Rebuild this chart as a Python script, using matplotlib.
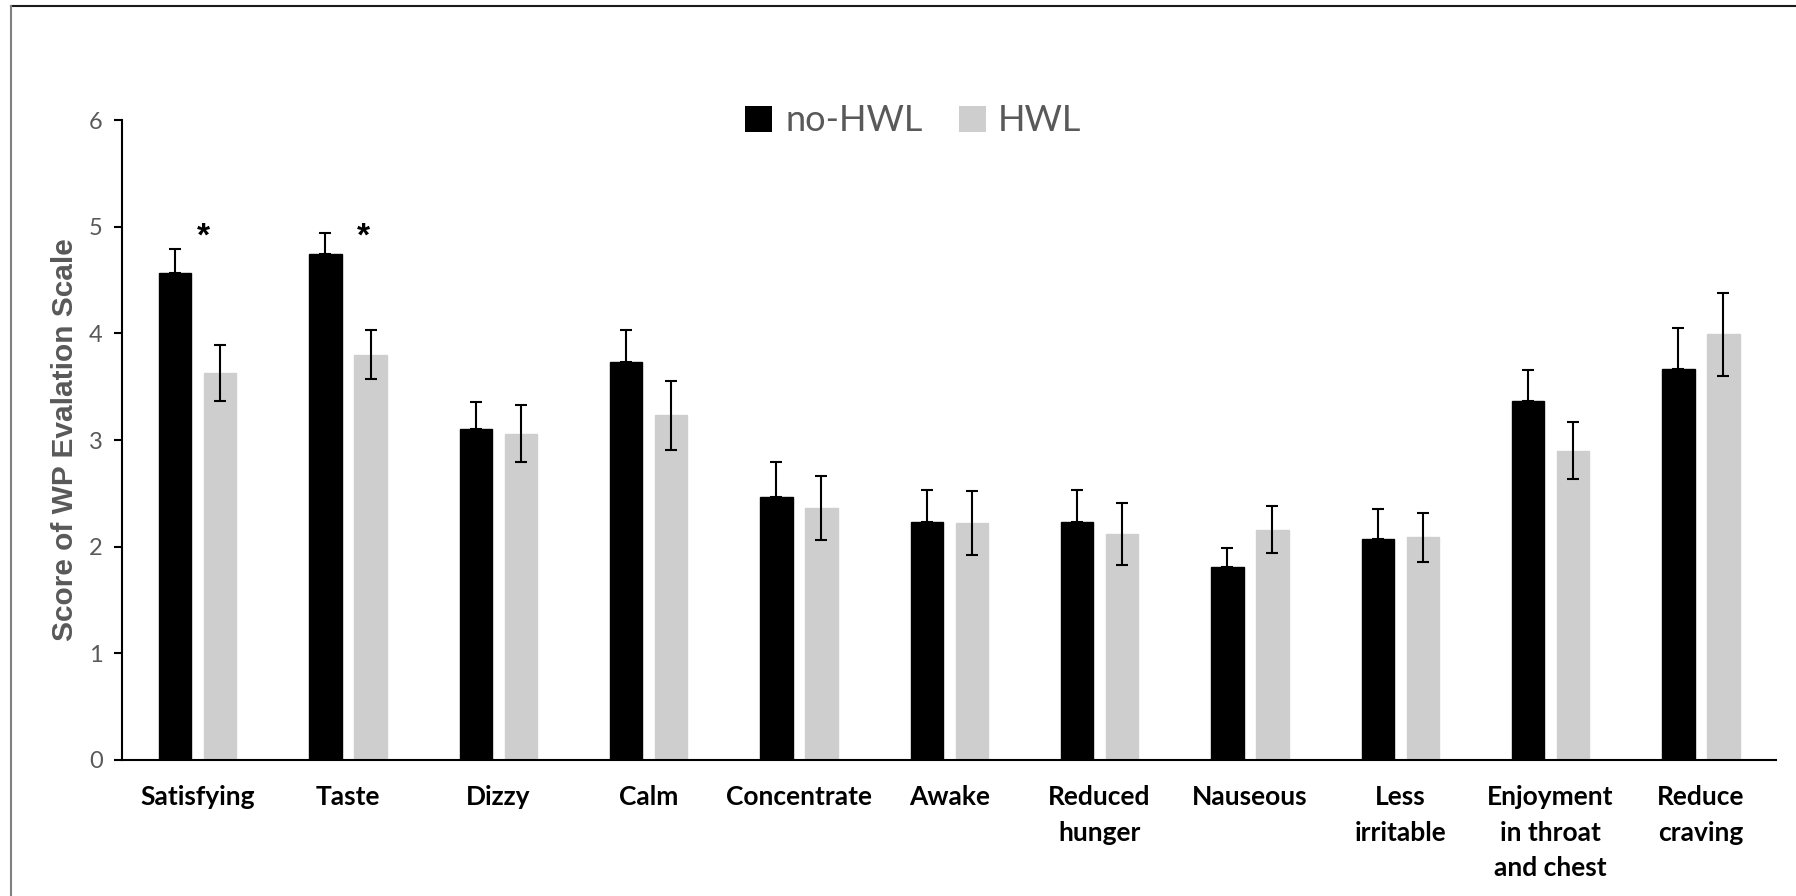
import numpy as np
import matplotlib.pyplot as plt
from matplotlib.lines import Line2D
from matplotlib.patches import Patch

categories = ["Satisfying", "Taste", "Dizzy", "Calm", "Concentrate", "Awake",
              "Reduced\nhunger", "Nauseous", "Less\nirritable",
              "Enjoyment\nin throat\nand chest", "Reduce\ncraving"]

no_hwl = [4.57, 4.74, 3.10, 3.73, 2.47, 2.23, 2.23, 1.81, 2.07, 3.37, 3.67]
no_hwl_err = [0.22, 0.20, 0.26, 0.30, 0.32, 0.30, 0.30, 0.18, 0.28, 0.29, 0.38]

hwl = [3.63, 3.80, 3.06, 3.23, 2.36, 2.22, 2.12, 2.16, 2.09, 2.90, 3.99]
hwl_err = [0.26, 0.23, 0.27, 0.32, 0.30, 0.30, 0.29, 0.22, 0.23, 0.27, 0.39]

GRAY_TXT = "#595959"
LIGHT = "#cfcece"

fig = plt.figure(figsize=(17.96, 8.96), dpi=100)
ax = fig.add_axes([0.0682, 0.1518, 0.9207, 0.7142])

x = np.arange(len(categories))
w = 0.215
ax.bar(x - 0.15, no_hwl, w, color="black", edgecolor="black", linewidth=1)
ax.bar(x + 0.15, hwl, w, color=LIGHT, edgecolor=LIGHT, linewidth=1)
ax.errorbar(x - 0.15, no_hwl, yerr=[[0] * len(x), no_hwl_err], fmt="none",
            ecolor="black", elinewidth=1.5, capsize=4.2, capthick=1.5)
ax.errorbar(x + 0.15, hwl, yerr=hwl_err, fmt="none",
            ecolor="black", elinewidth=1.5, capsize=4.2, capthick=1.5)

# significance marks
ax.text(0.04, 4.90, "*", ha="center", va="center", fontsize=24,
        fontweight="bold", family="Liberation Sans")
ax.text(1.10, 4.90, "*", ha="center", va="center", fontsize=24,
        fontweight="bold", family="Liberation Sans")

ax.set_xlim(-0.5, 10.5)
ax.set_ylim(0, 6)
ax.set_yticks(range(7))
for s in ["top", "right"]:
    ax.spines[s].set_visible(False)
ax.spines["left"].set_linewidth(1.5)
ax.spines["bottom"].set_linewidth(1.5)

ax.set_xticks(x)
ax.set_xticklabels(categories, fontsize=19, fontweight="bold", family="Lato",
                   linespacing=1.58)
ax.tick_params(axis="x", length=0, pad=18)
ax.tick_params(axis="y", length=5.8, width=1.5, pad=8.5, labelsize=17,
               labelcolor=GRAY_TXT)
for t in ax.get_yticklabels():
    t.set_family("Lato")

ax.set_ylabel("Score of WP Evalation Scale", fontsize=21.5, fontweight="bold",
              family="Liberation Sans", color=GRAY_TXT, labelpad=7)

handles = [Patch(facecolor="black", label="no-HWL"),
           Patch(facecolor=LIGHT, label="HWL")]
leg = fig.legend(handles=handles, loc="center", bbox_to_anchor=(0.5086, 0.865),
                 ncol=2, frameon=False, prop={"family": "Lato", "size": 26},
                 handlelength=0.75, handleheight=0.75, handletextpad=0.35,
                 columnspacing=1.0, labelcolor=GRAY_TXT)

# outer frame
fig.add_artist(Line2D([11 / 1796, 1], [1 - 6 / 896, 1 - 6 / 896],
                      transform=fig.transFigure, color="#1a1a1a", lw=1.5))
fig.add_artist(Line2D([11 / 1796, 11 / 1796], [1 - 6 / 896, 0],
                      transform=fig.transFigure, color="#808080", lw=1.5))

fig.savefig("out.png", dpi=100)
